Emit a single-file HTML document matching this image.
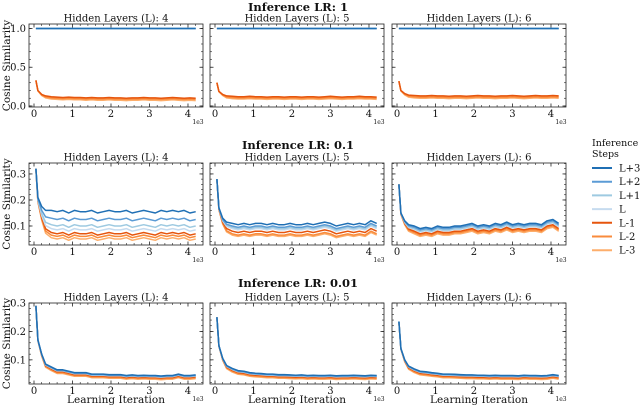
<!DOCTYPE html>
<html><head><meta charset="utf-8"><style>
body{margin:0;background:#fff;}
svg{display:block;font-family:"DejaVu Serif","Liberation Serif",serif;}
</style></head><body>
<svg id="chart" width="640" height="408" viewBox="0 0 640 408" xmlns="http://www.w3.org/2000/svg"></svg>
<script>
// ---- data ----
const xs = [0.05,0.1,0.2,0.3,0.45,0.6,0.75,0.9,1.05,1.2,1.35,1.5,1.65,1.8,1.95,2.1,2.25,2.4,2.55,2.7,2.85,3.0,3.15,3.3,3.45,3.6,3.75,3.9,4.05,4.2];
const seriesNames = ["L+3","L+2","L+1","L","L-1","L-2","L-3"];
const rowTitles = ["Inference LR: 1","Inference LR: 0.1","Inference LR: 0.01"];
const colTitles = ["Hidden Layers (L): 4","Hidden Layers (L): 5","Hidden Layers (L): 6"];
const xTicks = [0,1,2,3,4];
const yTicksR1 = [0.0,0.5,1.0];
const yTicksR2 = [0.1,0.2,0.3];
const yTicksR3 = [0.1,0.2,0.3];

const r1Blue = [1,1,1,1,1,1,1,1,1,1,1,1,1,1,1,1,1,1,1,1,1,1,1,1,1,1,1,1,1,1];
const r1p1Orange = [0.33,0.2,0.15,0.13,0.12,0.115,0.11,0.115,0.11,0.11,0.105,0.11,0.105,0.105,0.11,0.105,0.105,0.1,0.105,0.105,0.11,0.105,0.105,0.1,0.105,0.11,0.105,0.1,0.105,0.1];
const r1p2Orange = [0.3,0.19,0.15,0.13,0.125,0.12,0.12,0.125,0.12,0.12,0.115,0.12,0.12,0.115,0.12,0.12,0.115,0.12,0.12,0.115,0.12,0.125,0.12,0.115,0.12,0.12,0.125,0.12,0.12,0.115];
const r1p3Orange = [0.32,0.2,0.16,0.14,0.135,0.13,0.13,0.135,0.13,0.13,0.125,0.13,0.13,0.125,0.13,0.135,0.13,0.13,0.125,0.13,0.13,0.135,0.13,0.125,0.13,0.135,0.13,0.13,0.135,0.13];
const r1OrangeGaps = [0,0.015,0.03];

const r2p1Top = [0.32,0.21,0.175,0.16,0.16,0.155,0.16,0.15,0.16,0.155,0.155,0.16,0.15,0.155,0.16,0.155,0.155,0.16,0.15,0.155,0.16,0.155,0.15,0.16,0.155,0.16,0.155,0.16,0.15,0.155];
const r2p1Gaps = [0,0.03,0.055,0.07,0.085,0.095,0.105];
const r2p2Top = [0.28,0.17,0.13,0.115,0.11,0.105,0.11,0.105,0.11,0.11,0.105,0.11,0.105,0.105,0.11,0.105,0.105,0.11,0.105,0.11,0.115,0.11,0.1,0.105,0.11,0.105,0.11,0.105,0.12,0.11];
const r2p2Gaps = [0,0.01,0.015,0.02,0.03,0.04,0.045];
const r2p3Top = [0.26,0.15,0.12,0.105,0.1,0.09,0.095,0.09,0.1,0.095,0.095,0.1,0.1,0.105,0.11,0.1,0.105,0.1,0.11,0.105,0.115,0.105,0.11,0.105,0.11,0.11,0.105,0.12,0.125,0.11];
const r2p3Gaps = [0,0.005,0.01,0.013,0.02,0.025,0.03];

const r3p1Top = [0.29,0.17,0.12,0.085,0.075,0.065,0.065,0.06,0.055,0.055,0.055,0.05,0.05,0.05,0.048,0.048,0.048,0.045,0.047,0.045,0.046,0.045,0.045,0.043,0.045,0.045,0.05,0.045,0.045,0.047];
const r3p2Top = [0.25,0.15,0.105,0.08,0.07,0.062,0.06,0.055,0.053,0.052,0.05,0.05,0.048,0.048,0.047,0.046,0.047,0.045,0.046,0.045,0.045,0.046,0.044,0.045,0.045,0.046,0.045,0.044,0.046,0.045];
const r3p3Top = [0.235,0.14,0.1,0.078,0.068,0.06,0.058,0.055,0.053,0.05,0.05,0.049,0.048,0.047,0.047,0.046,0.046,0.045,0.046,0.045,0.045,0.045,0.044,0.046,0.045,0.045,0.044,0.045,0.048,0.045];
const r3Gaps = [0,0.002,0.003,0.004,0.007,0.01,0.013];

// ---- layout ----
const colors = ["#1f6fb4","#5b9bd5","#9ecae1","#c6dbef","#e6550d","#f98b3c","#fdae6b"];
const colL = [29,210,392], W = 174;
const rows = [
  {top:24,bot:107,ymin:-0.013,ymax:1.058,ticks:yTicksR1,fmt:v=>v.toFixed(1)},
  {top:163,bot:245,ymin:0.027,ymax:0.342,ticks:yTicksR2,fmt:v=>v.toFixed(1)},
  {top:303,bot:384,ymin:0.015,ymax:0.3,ticks:yTicksR3,fmt:v=>v.toFixed(1)}
];
const xmin=-0.13, xmax=4.39;
const svg=document.getElementById('chart');
const NS="http://www.w3.org/2000/svg";
function mk(t,a,p){const e=document.createElementNS(NS,t);for(const k in a)e.setAttribute(k,a[k]);(p||svg).appendChild(e);return e;}
function txt(x,y,s,size,anchor,extra,p){const e=mk('text',Object.assign({x:x,y:y,'font-size':size,'text-anchor':anchor||'middle',fill:'#111'},extra||{}),p);e.textContent=s;return e;}

function panelSeries(r,c){
  const ramp = xs.map(x=>Math.min(1,(x-0.05)/0.3));
  let out=[];
  if(r===0){
    const o=[r1p1Orange,r1p2Orange,r1p3Orange][c];
    for(let k=0;k<4;k++) out.push(r1Blue.slice());
    for(let k=0;k<3;k++) out.push(o.map((v,i)=>v-r1OrangeGaps[k]*ramp[i]));
  } else {
    const top = r===1?[r2p1Top,r2p2Top,r2p3Top][c]:[r3p1Top,r3p2Top,r3p3Top][c];
    const gaps = r===1?[r2p1Gaps,r2p2Gaps,r2p3Gaps][c]:r3Gaps;
    for(let k=0;k<7;k++) out.push(top.map((v,i)=>v-gaps[k]*ramp[i]));
  }
  return out;
}

rows.forEach((R,r)=>{
  const t=txt(298,r===0?11:(r===1?149:287),rowTitles[r],11.5,'middle',{'font-weight':'bold'});
  
  
  colL.forEach((L,c)=>{
    const g=mk('g',{});
    
    
    const sx=v=>L+(v-xmin)/(xmax-xmin)*W;
    const sy=v=>R.bot-(v-R.ymin)/(R.ymax-R.ymin)*(R.bot-R.top);
    txt(L+W/2,R.top-2.5,colTitles[c],10,'middle',{},g);
    const cid='clip'+r+c;
    const cp=mk('clipPath',{id:cid},g);mk('rect',{x:L,y:R.top,width:W,height:R.bot-R.top},cp);
    const data=panelSeries(r,c);
    for(let k=6;k>=0;k--){
      const d=data[k].map((v,i)=>(i?'L':'M')+sx(xs[i]).toFixed(1)+','+sy(v).toFixed(1)).join('');
      const p=mk('path',{d:d,fill:'none',stroke:colors[k],'stroke-width':1.5,'stroke-linejoin':'round','clip-path':'url(#'+cid+')'},g);
      
      
    }
    mk('rect',{x:L,y:R.top,width:W,height:R.bot-R.top,fill:'none',stroke:'#222','stroke-width':0.8},g);
    xTicks.forEach(v=>{const X=sx(v);
      mk('line',{x1:X,x2:X,y1:R.bot,y2:R.bot-3.5,stroke:'#222','stroke-width':0.8},g);
      mk('line',{x1:X,x2:X,y1:R.top,y2:R.top+3.5,stroke:'#222','stroke-width':0.8},g);
      txt(X,R.bot+10,String(v),10,'middle',{},g);
    });
    for(let v=0;v<=4.35;v+=0.2){ if(Math.abs(v-Math.round(v))<1e-6) continue; const X=sx(v);
      mk('line',{x1:X,x2:X,y1:R.bot,y2:R.bot-2,stroke:'#222','stroke-width':0.6},g);
      mk('line',{x1:X,x2:X,y1:R.top,y2:R.top+2,stroke:'#222','stroke-width':0.6},g);}
    txt(L+W-5,R.bot+17,'1e3',6,'middle',{},g);
    R.ticks.forEach(v=>{const Y=sy(v);
      mk('line',{x1:L,x2:L+3.5,y1:Y,y2:Y,stroke:'#222','stroke-width':0.8},g);
      mk('line',{x1:L+W,x2:L+W-3.5,y1:Y,y2:Y,stroke:'#222','stroke-width':0.8},g);
      if(c===0) txt(L-3,Y+3.5,R.fmt(v),10,'end',{},g);
    });
    const step=(R.ticks[1]-R.ticks[0])/5;
    for(let v=R.ticks[0]-5*step;v<R.ymax;v+=step){ if(v<R.ymin) continue; const Y=sy(v);
      mk('line',{x1:L,x2:L+2,y1:Y,y2:Y,stroke:'#222','stroke-width':0.6},g);
      mk('line',{x1:L+W,x2:L+W-2,y1:Y,y2:Y,stroke:'#222','stroke-width':0.6},g);}
    if(c===0){const yl=txt(0,0,'Cosine Similarity',10.5,'middle',{transform:'translate(10,'+((R.top+R.bot)/2)+') rotate(-90)'});
      }
    if(r===2){const xl=txt(L+W/2,403,'Learning Iteration',10.5,'middle');
      }
  });
});
const lg=mk('g',{});


txt(592,146,'Inference',9.5,'start',{},lg);
txt(592,157,'Steps',9.5,'start',{},lg);
seriesNames.forEach((n,k)=>{const y=168+k*13.7;
  const e=mk('line',{x1:592,x2:612,y1:y,y2:y,stroke:colors[k],'stroke-width':2},lg);
  
  
  txt(619,y+3.5,n,10,'start',{},lg);});
</script>
</body></html>
